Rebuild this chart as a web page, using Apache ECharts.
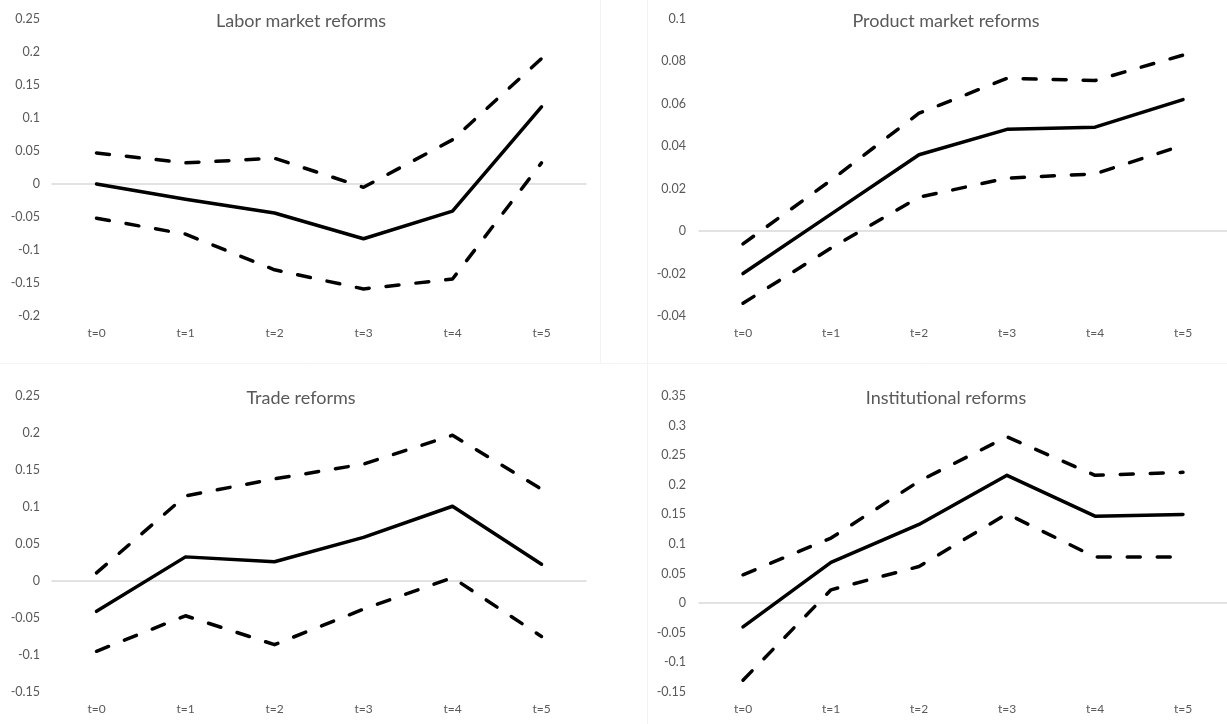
<!DOCTYPE html>
<html>
<head>
<meta charset="utf-8">
<script src="https://cdn.jsdelivr.net/npm/echarts@6/dist/echarts.min.js"></script>
<style>
html,body{margin:0;padding:0;background:#fff;}
#c{width:1227px;height:724px;}
</style>
</head>
<body>
<div id="c"></div>
<script>
const categories = ['t=0','t=1','t=2','t=3','t=4','t=5'];
const titles = ['Labor market reforms','Product market reforms','Trade reforms','Institutional reforms'];

const laborMid   = [0, -0.023, -0.044, -0.083, -0.041, 0.117];
const laborUp    = [0.047, 0.032, 0.039, -0.005, 0.067, 0.19];
const laborLow   = [-0.052, -0.076, -0.13, -0.159, -0.144, 0.032];

const productMid = [-0.02, 0.008, 0.036, 0.048, 0.049, 0.062];
const productUp  = [-0.006, 0.024, 0.0556, 0.072, 0.071, 0.083];
const productLow = [-0.034, -0.008, 0.016, 0.025, 0.027, 0.0405];

const tradeMid   = [-0.041, 0.0326, 0.026, 0.059, 0.101, 0.0226];
const tradeUp    = [0.011, 0.115, 0.138, 0.158, 0.197, 0.124];
const tradeLow   = [-0.095, -0.047, -0.086, -0.038, 0.0045, -0.075];

const instMid    = [-0.04, 0.069, 0.133, 0.216, 0.147, 0.150];
const instUp     = [0.048, 0.110, 0.206, 0.281, 0.216, 0.221];
const instLow    = [-0.13, 0.0226, 0.062, 0.151, 0.078, 0.078];

const yMin = [-0.2, -0.04, -0.15, -0.15];
const yMax = [0.25, 0.1, 0.25, 0.35];
const yStep = [0.05, 0.02, 0.05, 0.05];

const panels = [
  [laborMid, laborUp, laborLow],
  [productMid, productUp, productLow],
  [tradeMid, tradeUp, tradeLow],
  [instMid, instUp, instLow]
];

const grids = [
  {left: 52, top: 19, width: 534, height: 297},
  {left: 699, top: 19, width: 532, height: 297},
  {left: 52, top: 396, width: 534, height: 296},
  {left: 699, top: 396, width: 532, height: 296}
];
const titlePos = [
  {x: 296, y: 7}, {x: 941, y: 7}, {x: 296, y: 384}, {x: 941, y: 384}
];
const yLabelMargin = [12, 13, 12, 13];
const FONT = 'Lato, "Open Sans", sans-serif';
const GRAY = '#595959';

const xAxes = [], yAxes = [], series = [], title = [];
grids.forEach((g, i) => {
  title.push({
    text: titles[i], left: titlePos[i].x, top: titlePos[i].y, textAlign: 'center',
    textStyle: {fontFamily: FONT, fontSize: 18, fontWeight: 'normal', color: GRAY}
  });
  xAxes.push({
    type: 'category', gridIndex: i, data: categories, boundaryGap: true,
    axisLine: {show: false, onZero: false}, axisTick: {show: false},
    axisLabel: {color: GRAY, fontFamily: FONT, fontSize: 12, margin: 11},
    splitLine: {show: false}
  });
  xAxes.push({
    type: 'category', gridIndex: i, data: categories, boundaryGap: true, position: 'bottom',
    axisLine: {show: true, onZero: true, lineStyle: {color: '#d9d9d9', width: 1.5}},
    axisTick: {show: false}, axisLabel: {show: false}, splitLine: {show: false}
  });
  yAxes.push({
    type: 'value', gridIndex: i, min: yMin[i], max: yMax[i], interval: yStep[i],
    axisLine: {show: false}, axisTick: {show: false}, splitLine: {show: false},
    axisLabel: {color: GRAY, fontFamily: FONT, fontSize: 12.5, margin: yLabelMargin[i],
      formatter: v => String(parseFloat(v.toFixed(4)))}
  });
  const [mid, up, low] = panels[i];
  series.push({
    type: 'line', xAxisIndex: 2 * i, yAxisIndex: i, data: mid, symbol: 'none',
    lineStyle: {color: '#000', width: 3.5, cap: 'round', join: 'round'}, z: 3
  });
  [up, low].forEach(d => series.push({
    type: 'line', xAxisIndex: 2 * i, yAxisIndex: i, data: d, symbol: 'none',
    lineStyle: {color: '#000', width: 3.5, type: [13, 17], cap: 'round', join: 'round'}, z: 3
  }));
});

const chart = echarts.init(document.getElementById('c'), null, {renderer: 'canvas'});
chart.setOption({
  animation: false,
  backgroundColor: '#fff',
  title: title,
  grid: grids,
  xAxis: xAxes,
  yAxis: yAxes,
  series: series,
  graphic: [
    {type: 'line', shape: {x1: 600.5, y1: 0, x2: 600.5, y2: 363}, style: {stroke: '#f3f3f3', lineWidth: 1}, silent: true},
    {type: 'line', shape: {x1: 647.5, y1: 0, x2: 647.5, y2: 724}, style: {stroke: '#f3f3f3', lineWidth: 1}, silent: true},
    {type: 'line', shape: {x1: 0, y1: 363.5, x2: 1227, y2: 363.5}, style: {stroke: '#f3f3f3', lineWidth: 1}, silent: true}
  ]
});
</script>
</body>
</html>
